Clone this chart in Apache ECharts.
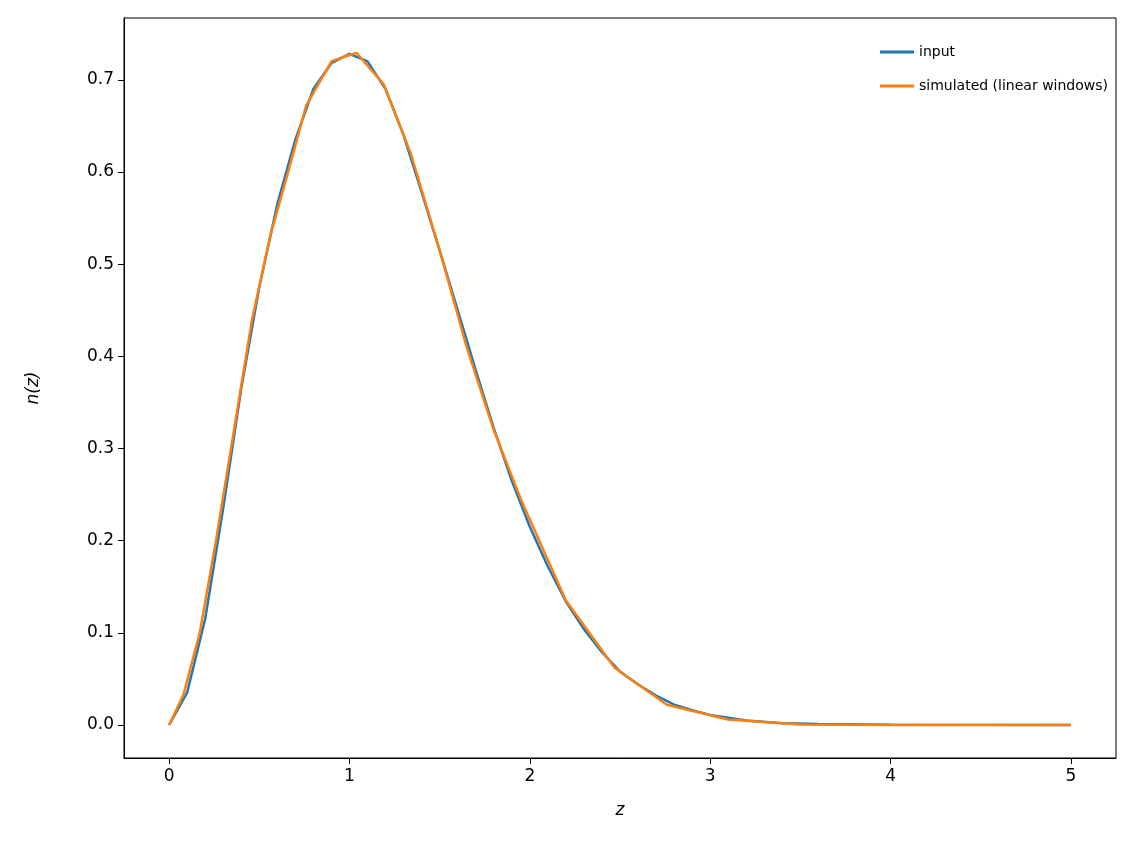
<!DOCTYPE html>
<html><head><meta charset="utf-8">
<script src="https://cdn.jsdelivr.net/npm/echarts@6/dist/echarts.min.js"></script>
<style>body{margin:0}#c{width:1135px;height:865px}</style></head>
<body><div id="c"></div>
<script>
const inputZ = [0,0.1,0.2,0.3,0.4,0.5,0.6,0.7,0.8,0.9,1.0,1.1,1.2,1.3,1.4,1.5,1.6,1.7,1.8,1.9,2.0,2.1,2.2,2.3,2.4,2.5,2.6,2.7,2.8,2.9,3.0,3.2,3.4,3.6,4.0,5.0];
const inputN = [0,0.035,0.115,0.235,0.365,0.475,0.565,0.635,0.69,0.718,0.728,0.72,0.69,0.64,0.578,0.515,0.45,0.385,0.322,0.265,0.215,0.172,0.134,0.104,0.079,0.058,0.044,0.032,0.022,0.016,0.011,0.005,0.002,0.001,0.0003,0];
const simZ = [0,0.08,0.17,0.26,0.36,0.46,0.56,0.66,0.76,0.9,0.97,1.04,1.19,1.34,1.5,1.65,1.8,1.95,2.2,2.47,2.76,3.1,3.5,4.0,5.0];
const simN = [0,0.033,0.10,0.20,0.32,0.44,0.53,0.60,0.672,0.72,0.725,0.729,0.695,0.62,0.515,0.41,0.32,0.245,0.135,0.062,0.022,0.006,0.0005,0,0];
const xTicks = [0,1,2,3,4,5];
const yTicks = [0,0.1,0.2,0.3,0.4,0.5,0.6,0.7];
const zip=(a,b)=>a.map((v,i)=>[v,b[i]]);
const ch = echarts.init(document.getElementById('c'));
const lbl = {color:'#000',fontSize:17,fontFamily:'DejaVu Sans'};
ch.setOption({
  animation:false,
  grid:{left:124,right:19,top:18,bottom:107},
  legend:{right:22,top:40,orient:'vertical',itemWidth:34,itemHeight:3,itemGap:20,
    textStyle:{fontSize:14,fontFamily:'DejaVu Sans',color:'#000'},
    data:[{name:'input',icon:'rect'},{name:'simulated (linear windows)',icon:'rect'}]},
  xAxis:{type:'value',min:-0.25,max:5.25,name:'z',nameLocation:'middle',nameGap:44,
    nameTextStyle:{fontSize:17,fontStyle:'italic',fontFamily:'DejaVu Sans',color:'#000'},
    axisLine:{onZero:false,lineStyle:{color:'#000'}},splitLine:{show:false},
    axisTick:{customValues:xTicks,length:6,inside:false,lineStyle:{color:'#000'}},
    axisLabel:Object.assign({customValues:xTicks,margin:10,formatter:v=>String(v)},lbl)},
  yAxis:{type:'value',min:-0.0358,max:0.767,name:'n(z)',nameLocation:'middle',nameGap:82,
    nameTextStyle:{fontSize:17,fontStyle:'italic',fontFamily:'DejaVu Sans',color:'#000'},
    axisLine:{show:true,onZero:false,lineStyle:{color:'#000'}},splitLine:{show:false},
    axisTick:{show:true,customValues:yTicks,length:6,inside:false,lineStyle:{color:'#000'}},
    axisLabel:Object.assign({customValues:yTicks,margin:10,formatter:v=>v.toFixed(1)},lbl)},
  series:[
    {name:'input',type:'line',data:zip(inputZ,inputN),showSymbol:false,
     lineStyle:{color:'#1f77b4',width:2.5},itemStyle:{color:'#1f77b4'}},
    {name:'simulated (linear windows)',type:'line',data:zip(simZ,simN),showSymbol:false,
     lineStyle:{color:'#ff7f0e',width:2.5},itemStyle:{color:'#ff7f0e'}}
  ],
  graphic:[{type:'rect',shape:{x:124,y:18,width:992,height:740},style:{fill:'none',stroke:'#000',lineWidth:1},silent:true}]
});
</script></body></html>
